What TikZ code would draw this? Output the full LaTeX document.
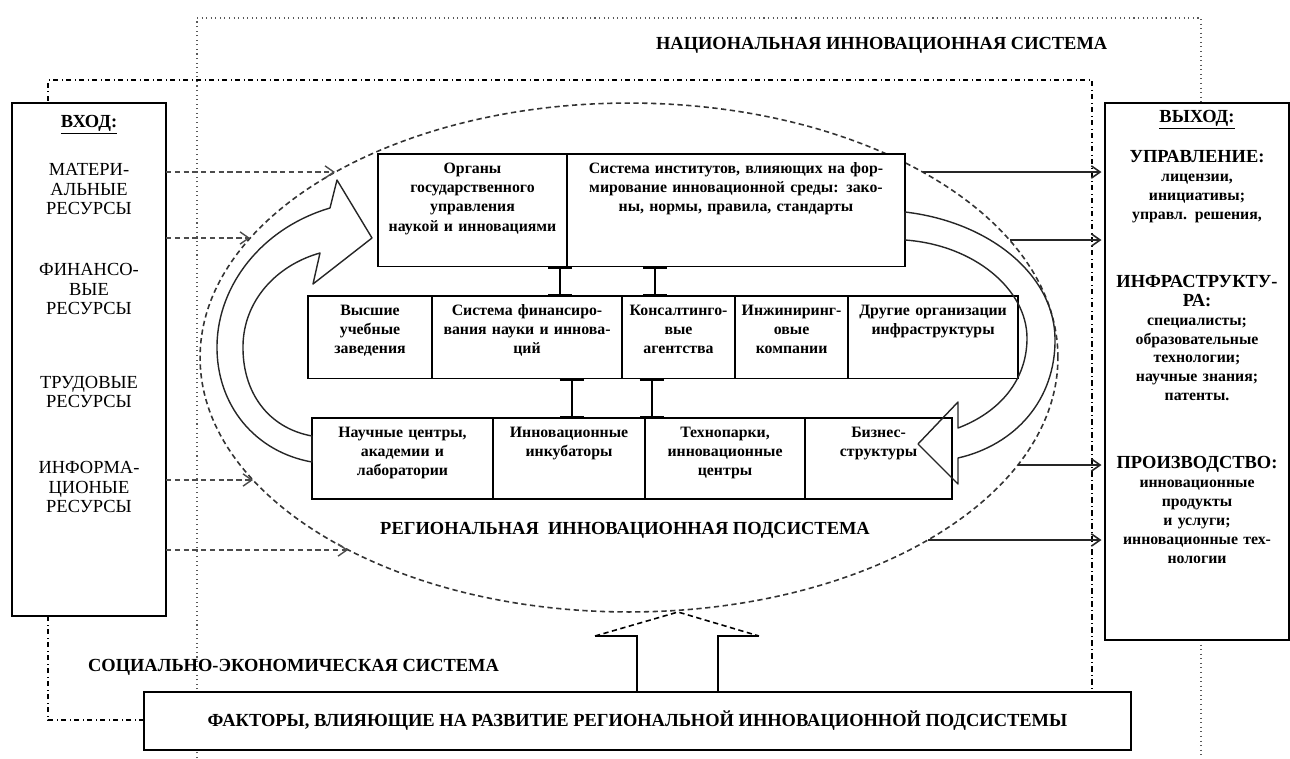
\documentclass[tikz,border=0pt]{standalone}
\usepackage{fontspec}
\setmainfont{Liberation Serif}
\usetikzlibrary{positioning,shapes.geometric,arrows.meta}

\begin{document}
\begin{tikzpicture}
[x=0.02cm, y=-0.02cm,
  cellDecorate/.style={shape=rectangle, draw, thick, fill=white, align=center,
    inner sep=3pt, outer sep=0pt, text height=8pt,
    font=\fontsize{9}{11}\selectfont\bfseries},%
  topDecorate/.style={cellDecorate, text depth=50pt},%
  midDecorate/.style={cellDecorate, text depth=33pt},%
  lowDecorate/.style={cellDecorate, text depth=32pt},%
  boxDecorate/.style={shape=rectangle, draw, line width=1.2pt, fill=white,
    anchor=north west, inner sep=0pt, outer sep=0pt},%
  inText/.style={align=center, text width=2.9cm, font=\fontsize{10.5}{11}\selectfont},%
  outText/.style={align=center, text width=3.6cm, font=\fontsize{9}{10.8}\selectfont\bfseries},%
  titleDecorate/.style={font=\fontsize{10.5}{12}\selectfont\bfseries, inner sep=1pt},%
  natDecorate/.style={dotted, gray!70!black, line width=0.6pt},%
  socDecorate/.style={dash dot, line width=0.9pt},%
  ellipseDecorate/.style={shape=ellipse, draw, densely dashed, gray!40!black, line width=0.9pt,
    inner sep=0pt, outer sep=0pt},%
  inArrow/.style={densely dashed, gray!60!black, line width=0.8pt,
    -{Straight Barb[length=5pt,width=7pt]}},%
  outArrow/.style={gray!30!black, line width=0.9pt, shorten >=2pt,
    -{Straight Barb[length=5pt,width=7pt]}},%
  fatArrow/.style={draw, gray!30!black, line width=0.8pt, line join=round},%
  beamDecorate/.style={line width=1.4pt, {Bar[width=14pt]}-{Bar[width=14pt]}},%
  upArrow/.style={draw, line width=0.9pt}]
\useasboundingbox (0,0) rectangle (1290,758);

%% frames of the systems
\draw[natDecorate] (197,758) -- (197,18) -- (1201,18) -- (1201,103);
\draw[natDecorate] (1201,640) -- (1201,758);
\draw[socDecorate] (144,720) -- (48,720) -- (48,80) -- (1092,80) -- (1092,692);
\node[titleDecorate, anchor=west] (natlabel) at (654,45) {НАЦИОНАЛЬНАЯ ИННОВАЦИОННАЯ СИСТЕМА};
\node[titleDecorate, anchor=west] (soclabel) at (86,667) {СОЦИАЛЬНО-ЭКОНОМИЧЕСКАЯ СИСТЕМА};

%% regional subsystem
\node[ellipseDecorate, minimum width=17.16cm, minimum height=10.18cm] (region) at (629,357.5) {};
\node[titleDecorate] (reglabel) at (625,530) {РЕГИОНАЛЬНАЯ\ \ ИННОВАЦИОННАЯ ПОДСИСТЕМА};

%% input and output
\node[boxDecorate, minimum width=3.08cm, minimum height=10.26cm] (inbox) at (12,103) {};
\node[boxDecorate, minimum width=3.68cm, minimum height=10.74cm] (outbox) at (1105,103) {};
\foreach \ny/\ntext [count=\i] in {125/{\textbf{\underline{ВХОД:}}},
  189/{МАТЕРИ-\\АЛЬНЫЕ\\РЕСУРСЫ}, 289/{ФИНАНСО-\\ВЫЕ\\РЕСУРСЫ},
  392/{ТРУДОВЫЕ\\РЕСУРСЫ}, 487/{ИНФОРМА-\\ЦИОНЫЕ\\РЕСУРСЫ}}
{
  \node[inText] (intext\i) at (89,\ny) {\ntext};
}
\node[outText] (outhead) at (1197,120) {\fontsize{10.5}{10.8}\selectfont\underline{ВЫХОД:}};
\node[outText] (outmgmt) at (1197,187) {\fontsize{10.5}{10.8}\selectfont УПРАВЛЕНИЕ:\\
  \fontsize{9}{10.8}\selectfont лицензии,\\ инициативы;\\ управл. решения,};
\node[outText] (outinfra) at (1197,338) {\fontsize{10.5}{10.8}\selectfont ИНФРАСТРУКТУ-\\ РА:\\
  \fontsize{9}{10.8}\selectfont специалисты;\\ образовательные\\ технологии;\\ научные знания;\\ патенты.};
\node[outText] (outprod) at (1197,510) {\fontsize{10.5}{10.8}\selectfont ПРОИЗВОДСТВО:\\
  \fontsize{9}{10.8}\selectfont инновационные\\ продукты\\ и услуги;\\ инновационные тех-\\ нологии};

%% rows of the subsystem
\node[topDecorate, anchor=north west, text width=3.57cm] (orgs) at (378,154)
  {Органы\\ государственного\\ управления\\ наукой и инновациями};
\node[topDecorate, right=0pt of orgs, text width=6.55cm] (inst)
  {Система институтов, влияющих на фор-\\ мирование инновационной среды: зако-\\ ны, нормы, правила, стандарты};
\node[midDecorate, anchor=north west, text width=2.27cm] (vuz) at (308,296)
  {Высшие\\ учебные\\ заведения};
\node[midDecorate, right=0pt of vuz, text width=3.59cm] (fin)
  {Система финансиро-\\ вания науки и иннова-\\ ций};
\node[midDecorate, right=0pt of fin, text width=2.05cm] (kons)
  {Консалтинго-\\ вые агентства};
\node[midDecorate, right=0pt of kons, text width=2.05cm] (eng)
  {Инжиниринг-\\ овые\\ компании};
\node[midDecorate, right=0pt of eng, text width=3.19cm] (other)
  {Другие организации\\ инфраструктуры};
\node[lowDecorate, anchor=north west, text width=3.41cm] (sci) at (312,418)
  {Научные центры,\\ академии и\\ лаборатории};
\node[lowDecorate, right=0pt of sci, text width=2.83cm] (inc)
  {Инновационные\\ инкубаторы};
\node[lowDecorate, right=0pt of inc, text width=2.99cm] (tech)
  {Технопарки,\\ инновационные\\ центры};
\node[lowDecorate, right=0pt of tech, text width=2.73cm] (biz)
  {Бизнес-\\ структуры};

%% links between the rows
\foreach \cname/\cx in {x1/560, x2/655, x3/572, x4/652}
{
  \coordinate (\cname) at (\cx,0);
}
\path
\foreach \upper/\lower/\cname in {orgs/fin/x1, inst/kons/x2, fin/inc/x3, kons/tech/x4}
{
  (\upper.south -| \cname) edge[beamDecorate] (\lower.north -| \cname)
};

%% circulation arrows
\draw[fatArrow] (312,462) .. controls (255,452) and (216,405) .. (217,345)
  .. controls (218,285) and (262,228) .. (330,208)
  -- (337,180) -- (372,238) -- (313,284) -- (320,253)
  .. controls (277,265) and (244,300) .. (243,345)
  .. controls (242,392) and (268,428) .. (312,436) -- cycle;
\draw[fatArrow] (905,212) .. controls (990,222) and (1054,275) .. (1055,338)
  .. controls (1056,400) and (1015,445) .. (958,458)
  -- (958,484) -- (918,444) -- (958,402) -- (958,428)
  .. controls (1000,412) and (1027,380) .. (1027,338)
  .. controls (1027,290) and (975,245) .. (905,240) -- cycle;

%% resources in, results out
\foreach \name/\x/\y in {a/335/172, b/250/238, c/253/480, d/348/550}
{
  \coordinate (in\name) at (\x,\y);
  \draw[inArrow] (inbox.east |- in\name) -- (in\name);
}
\foreach \name/\x/\y in {a/923/172, b/1010/240, c/1018/465, d/928/540}
{
  \coordinate (out\name) at (\x,\y);
  \draw[outArrow] (out\name) -- (outbox.west |- out\name);
}

%% factors
\node[boxDecorate, minimum width=19.74cm, minimum height=1.16cm,
  font=\fontsize{10.5}{12}\selectfont\bfseries] (factors) at (144,692)
  {ФАКТОРЫ, ВЛИЯЮЩИЕ НА РАЗВИТИЕ РЕГИОНАЛЬНОЙ ИННОВАЦИОННОЙ ПОДСИСТЕМЫ};
\coordinate (upL) at (637,636);
\coordinate (upR) at (718,636);
\coordinate (upTip) at (678,612);
\draw[upArrow] (factors.north -| upL) -- (upL) -- (595,636);
\draw[upArrow, densely dashed] (595,636) -- (upTip) -- (759,636);
\draw[upArrow] (759,636) -- (upR) -- (factors.north -| upR);
\end{tikzpicture}
\end{document}
